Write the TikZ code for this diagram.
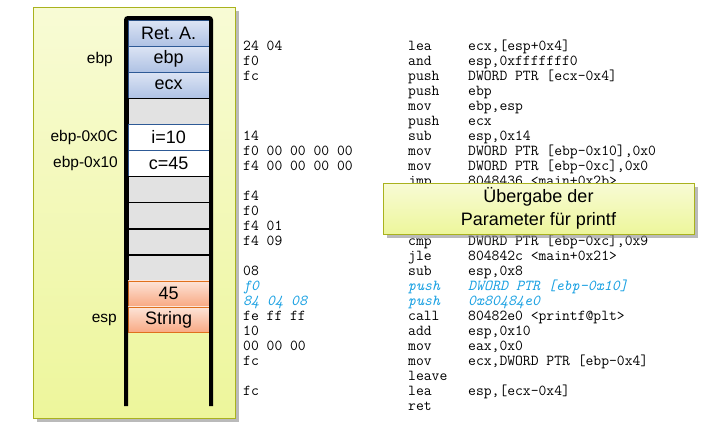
\documentclass[tikz,border=0pt]{standalone}
\usepackage{fontspec}
\setmainfont{Liberation Sans}
\usepackage{tikz}
\usetikzlibrary{positioning,shadows}
\definecolor{cPanelTop}{HTML}{F8FBD5}
\definecolor{cPanelBot}{HTML}{EDF69B}
\definecolor{cOlive}{HTML}{A9B21E}
\definecolor{cBlueTop}{HTML}{DCE4F4}
\definecolor{cBlueBot}{HTML}{AFC2E4}
\definecolor{cBlueLine}{HTML}{2E5A96}
\definecolor{cSalTop}{HTML}{FDE4D8}
\definecolor{cSalBot}{HTML}{F8A882}
\definecolor{cSalLine}{HTML}{E0701C}
\definecolor{cJunk}{HTML}{E2E2E2}
\definecolor{cHot}{HTML}{1BA1E2}
\tikzset{
  cell/.style     = {draw=cBlueLine, minimum width=81pt, minimum height=25.67pt,
                     inner sep=0pt, font=\fontsize{18}{20}\selectfont},
  regcell/.style  = {cell, top color=cBlueTop, bottom color=cBlueBot},
  varcell/.style  = {cell, fill=white},
  junkcell/.style = {cell, draw=black, fill=cJunk},
  argcell/.style  = {cell, draw=cSalLine, top color=cSalTop, bottom color=cSalBot},
  frame/.style    = {line width=4pt, draw=black, rounded corners=2pt},
  lbl/.style      = {inner sep=0pt, font=\fontsize{15.5}{18}\selectfont},
  hex/.style      = {anchor=base west, inner sep=0pt,
                     font=\ttfamily\addfontfeature{FakeBold=0.5}\fontsize{15.2}{15}\selectfont},
  hot/.style      = {hex, text=cHot,
                     font=\ttfamily\itshape\addfontfeature{FakeBold=0.5}\fontsize{15.2}{15}\selectfont},
  shade/.style    = {drop shadow={shadow xshift=4pt, shadow yshift=-4pt,
                     fill=black!45, opacity=.6}},
  panel/.style    = {draw=cOlive, thick, top color=cPanelTop, bottom color=cPanelBot, shade},
  callout/.style  = {panel, align=center, inner sep=0pt,
                     font=\fontsize{18}{23}\selectfont},
}
\begin{document}
\begin{tikzpicture}[x=1pt, y=-1pt, node distance=0pt]
  \useasboundingbox (0,0) rectangle (724,434);
  % stack frame
  \node[panel, minimum width=202pt, minimum height=411pt, anchor=north west] (box) at (33,7) {};
  \node[regcell, anchor=north west] (ret) at (128,20) {Ret.\ A.};
  \node[regcell, below=of ret] (savebp) {ebp};
  \node[regcell, below=of savebp] (saveecx) {ecx};
  \node[junkcell, below=of saveecx] (gapA) {};
  \node[varcell, below=of gapA] (vari) {i=10};
  \node[varcell, below=of vari] (varc) {c=45};
  \node[junkcell, below=of varc] (gapB) {};
  \node[junkcell, below=of gapB] (gapC) {};
  \node[junkcell, below=of gapC] (gapD) {};
  \node[junkcell, below=of gapD] (gapE) {};
  \node[argcell, below=of gapE] (argc) {45};
  \node[argcell, below=of argc] (argstr) {String};
  \draw[frame] (126,406) -- (126,18) -- (211,18) -- (211,406);
  % register labels
  \node[lbl, left=15pt of savebp] (lebp) {ebp};
  \node[lbl, left=10pt of vari] (lvari) {ebp-0x0C};
  \node[lbl, left=10pt of varc] (lvarc) {ebp-0x10};
  \node[lbl, left=11pt of argstr] (lesp) {esp};
  % disassembly
  \foreach \k/\h in {0/24 04, 1/f0, 2/fc, 6/14, 7/f0 00 00 00 00, 8/f4 00 00 00 00,
                     10/f4, 11/f0, 12/f4 01, 13/f4 09, 15/08, 18/fe ff ff, 19/10,
                     20/00 00 00, 21/fc, 23/fc}
    \node[hex] (hex\k) at (243,{50+15*\k}) {\h};
  \foreach \k/\m/\o in {0/lea/{ecx,[esp+0x4]}, 1/and/{esp,0xfffffff0},
                        2/push/{DWORD PTR [ecx-0x4]}, 3/push/ebp, 4/mov/{ebp,esp},
                        5/push/ecx, 6/sub/{esp,0x14}, 7/mov/{DWORD PTR [ebp-0x10],0x0},
                        8/mov/{DWORD PTR [ebp-0xc],0x0}, 9/jmp/{8048436 <main+0x2b>},
                        13/cmp/{DWORD PTR [ebp-0xc],0x9}, 14/jle/{804842c <main+0x21>},
                        15/sub/{esp,0x8}, 18/call/{80482e0 <printf@plt>},
                        19/add/{esp,0x10}, 20/mov/{eax,0x0},
                        21/mov/{ecx,DWORD PTR [ebp-0x4]}, 22/leave/{},
                        23/lea/{esp,[ecx-0x4]}, 24/ret/{}}
  {
    \node[hex] (mn\k) at (408,{50+15*\k}) {\m};
    \node[hex] (op\k) at (468,{50+15*\k}) {\o};
  }
  % printf arguments
  \node[hot] (hex16) at (243,290) {f0};
  \node[hot] (mn16) at (408,290) {push};
  \node[hot] (op16) at (468,290) {DWORD PTR [ebp-0x10]};
  \node[hot] (hex17) at (243,305) {84 04 08};
  \node[hot] (mn17) at (408,305) {push};
  \node[hot] (op17) at (468,305) {0x80484e0};
  % note
  \node[callout, minimum width=311pt, minimum height=51pt] (note) at (538.5,208.5)
    {Übergabe der\\Parameter für printf};
\end{tikzpicture}
\end{document}
